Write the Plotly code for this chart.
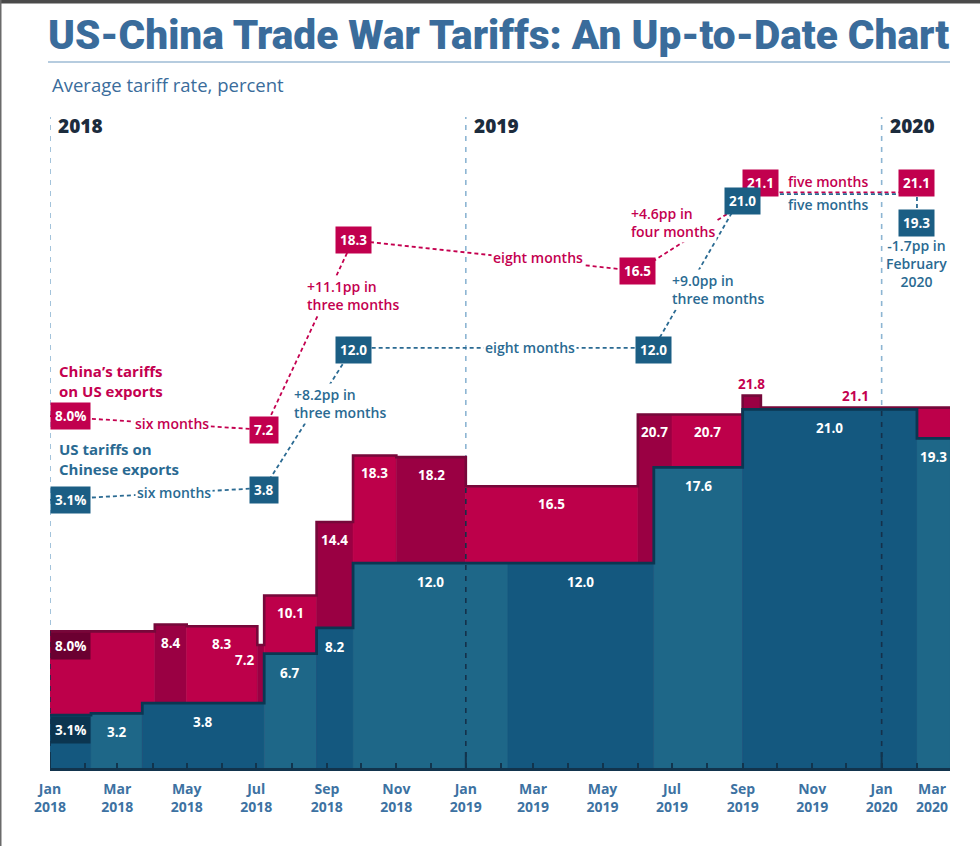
import pandas as pd
import plotly.graph_objects as go

# ---------------- data ----------------
END_DATE = "2020-03-01"

china_start = ["2018-01-01", "2018-04-03", "2018-05-01", "2018-07-02", "2018-07-08",
               "2018-08-23", "2018-09-24", "2018-11-01", "2019-01-01", "2019-06-01",
               "2019-07-01", "2019-09-01", "2019-09-17"]
china_value = [8.0, 8.4, 8.3, 7.2, 10.1, 14.4, 18.3, 18.2, 16.5, 20.7, 20.7, 21.8, 21.1]

us_start = ["2018-01-01", "2018-02-06", "2018-03-23", "2018-07-08", "2018-08-23",
            "2018-09-24", "2019-02-07", "2019-06-15", "2019-09-01", "2020-02-01"]
us_value = [3.1, 3.2, 3.8, 6.7, 8.2, 12.0, 12.0, 17.6, 21.0, 19.3]

# milestone diagram (upper part of the chart)
china_key_date = ["2018-01-01", "2018-07-08", "2018-09-24", "2019-06-01", "2019-09-17", "2020-02-01"]
china_key_value = [8.0, 7.2, 18.3, 16.5, 21.1, 21.1]
china_key_label = ["8.0%", "7.2", "18.3", "16.5", "21.1", "21.1"]
china_step_text = ["six months", "+11.1pp in<br>three months", "eight months",
                   "+4.6pp in<br>four months", "five months"]

us_key_date = ["2018-01-01", "2018-07-08", "2018-09-24", "2019-06-15", "2019-09-01", "2020-02-01", "2020-02-01"]
us_key_value = [3.1, 3.8, 12.0, 12.0, 21.0, 21.0, 19.3]
us_key_label = ["3.1%", "3.8", "12.0", "12.0", "21.0", "", "19.3"]
us_step_text = ["six months", "+8.2pp in<br>three months", "eight months",
                "+9.0pp in<br>three months", "five months", "-1.7pp in<br>February<br>2020"]

tick_dates = ["2018-01-01", "2018-03-01", "2018-05-01", "2018-07-01", "2018-09-01", "2018-11-01",
              "2019-01-01", "2019-03-01", "2019-05-01", "2019-07-01", "2019-09-01", "2019-11-01",
              "2020-01-01", "2020-03-01"]
tick_text = ["Jan<br>2018", "Mar<br>2018", "May<br>2018", "Jul<br>2018", "Sep<br>2018", "Nov<br>2018",
             "Jan<br>2019", "Mar<br>2019", "May<br>2019", "Jul<br>2019", "Sep<br>2019", "Nov<br>2019",
             "Jan<br>2020", "Mar<br>2020"]
year_dates = ["2018-01-01", "2019-01-01", "2020-01-01"]
year_labels = ["2018", "2019", "2020"]

TITLE = "US-China Trade War Tariffs: An Up-to-Date Chart"
SUBTITLE = "Average tariff rate, percent"
CHINA_NAME = "China\u2019s tariffs<br>on US exports"
US_NAME = "US tariffs on<br>Chinese exports"

# ---------------- style ----------------
W, H = 980, 846
ML, MR, MT, MB = 50, 30, 100, 78
PLOT_W = W - ML - MR
PLOT_H = H - MT - MB
PX_PER_UNIT = 17.08
Y_TOP = PLOT_H / PX_PER_UNIT
DIAGRAM_OFFSET = 12.6

FONT = "Open Sans"
CR = "#bd004a"      # crimson
CR_DK = "#9a0043"
CR_LINE = "#76083a"
CR_BOX = "#c1004e"
CR_TXT = "#c4004f"
BL_LT = "#1e6788"
BL_DK = "#14587f"
BL_LINE = "#0b3652"
BL_BOX = "#1b5e84"
BL_TXT = "#2a6a92"
AX = "#12344d"
TITLE_C = "#3a6c9b"

fig = go.Figure()


def seg_end(starts, i):
    return starts[i + 1] if i + 1 < len(starts) else END_DATE


def mid(a, b):
    a, b = pd.Timestamp(a), pd.Timestamp(b)
    return a + (b - a) / 2


def value_at(starts, values, d):
    d = pd.Timestamp(d)
    v = values[0]
    for s, val in zip(starts, values):
        if pd.Timestamp(s) <= d:
            v = val
    return v


def py(px):
    """pixel row -> paper y"""
    return (H - MB - px) / PLOT_H


def pxx(px):
    """pixel column -> paper x"""
    return (px - ML) / PLOT_W


ann = []

# light dashed year lines (behind areas)
shapes = []
for d in year_dates:
    shapes.append(dict(type="line", xref="x", yref="paper", x0=d, x1=d, y0=0, y1=py(117),
                       line=dict(color="#8db5d3", width=1.6, dash="5px,6px"), layer="below"))

# China area segments
for i, (s, v) in enumerate(zip(china_start, china_value)):
    e = seg_end(china_start, i)
    c = CR if i % 2 == 0 else CR_DK
    fig.add_trace(go.Scatter(x=[s, s, e, e, s], y=[0, v, v, 0, 0], fill="toself", fillcolor=c,
                             mode="lines", line=dict(color=c, width=0.6), hoverinfo="skip", showlegend=False))
fig.add_trace(go.Scatter(x=china_start + [END_DATE], y=china_value + [china_value[-1]], mode="lines",
                         line=dict(color=CR_LINE, width=2.6, shape="hv"), hoverinfo="skip", showlegend=False))

# US area segments
for i, (s, v) in enumerate(zip(us_start, us_value)):
    e = seg_end(us_start, i)
    c = BL_DK if i % 2 == 0 else BL_LT
    fig.add_trace(go.Scatter(x=[s, s, e, e, s], y=[0, v, v, 0, 0], fill="toself", fillcolor=c,
                             mode="lines", line=dict(color=c, width=0.6), hoverinfo="skip", showlegend=False))
fig.add_trace(go.Scatter(x=us_start + [END_DATE], y=us_value + [us_value[-1]], mode="lines",
                         line=dict(color=BL_LINE, width=2.8, shape="hv"), hoverinfo="skip", showlegend=False))

# dark dashed year lines inside the areas
for d in year_dates:
    top = value_at(china_start, china_value, d)
    fig.add_trace(go.Scatter(x=[d, d], y=[0, top], mode="lines",
                             line=dict(color="#15304a", width=1.6, dash="5px,6px"),
                             hoverinfo="skip", showlegend=False))

# diagram connector lines (on y2, shifted axis)
fig.add_trace(go.Scatter(x=china_key_date, y=china_key_value, yaxis="y2", mode="lines",
                         line=dict(color=CR_TXT, width=1.8, dash="4px,3px"), hoverinfo="skip", showlegend=False))
fig.add_trace(go.Scatter(x=us_key_date, y=us_key_value, yaxis="y2", mode="lines",
                         line=dict(color=BL_TXT, width=1.8, dash="4px,3px"), hoverinfo="skip", showlegend=False))

lab_font = dict(family=FONT, size=13.5, color="white", weight=700)

# value labels in the areas
for i, (s, v) in enumerate(zip(china_start, china_value)):
    e = seg_end(china_start, i)
    txt = f"{v:.1f}"
    if i == 0:
        ann.append(dict(x=s, y=v, xref="x", yref="y", text=txt + "%", showarrow=False, xanchor="left",
                        yanchor="top", bgcolor="#6b0031", borderpad=4, font=lab_font, yshift=-1))
    elif i == 3:
        ann.append(dict(x=s, y=v, xref="x", yref="y", text=txt, showarrow=False, xanchor="right",
                        yanchor="middle", yshift=-15, xshift=0, font=lab_font))
    elif i >= len(china_value) - 2:
        ann.append(dict(x=mid(s, e), y=v, xref="x", yref="y", text=txt, showarrow=False,
                        yanchor="middle", yshift=12, font=dict(family=FONT, size=13.5, color=CR_TXT, weight=700)))
    else:
        ann.append(dict(x=mid(s, e), y=v, xref="x", yref="y", text=txt, showarrow=False,
                        yanchor="middle", yshift=-18, font=lab_font))

for i, (s, v) in enumerate(zip(us_start, us_value)):
    e = seg_end(us_start, i)
    txt = f"{v:.1f}"
    if i == 0:
        ann.append(dict(x=s, y=v, xref="x", yref="y", text=txt + "%", showarrow=False, xanchor="left",
                        yanchor="top", bgcolor="#0b3550", borderpad=4, font=lab_font, yshift=-1))
    else:
        ann.append(dict(x=mid(s, e), y=v, xref="x", yref="y", text=txt, showarrow=False,
                        yanchor="middle", yshift=-19, font=lab_font))

# connector texts: (fraction along step, xshift, yshift, background)
china_step_pos = [(0.57, 0, 0, True), (0.71, 26, 0, True), (0.65, 0, 3, True), (0.62, -41, 0, True), (0.43, 0, 11, False)]
us_step_pos = [(0.58, 0, 0, True), (0.60, 23, 0, True), (0.59, 0, 0, True), (0.38, 30, 0, True),
               (0.49, 0, -10, False), (1.0, 0, -40, False)]


def step_labels(dates, values, texts, pos, color):
    for i, (txt, (t, xs, ys, bg)) in enumerate(zip(texts, pos)):
        d0, d1 = pd.Timestamp(dates[i]), pd.Timestamp(dates[i + 1])
        v0, v1 = values[i], values[i + 1]
        x = d0 + (d1 - d0) * t
        y = v0 + (v1 - v0) * t
        ann.append(dict(x=x, y=y, xref="x", yref="y2", text=txt, showarrow=False, xshift=xs, yshift=ys,
                        xanchor="center", yanchor="middle",
                        align="center" if "February" in txt else "left",
                        bgcolor="white" if bg else None, borderpad=1,
                        font=dict(family=FONT, size=14, color=color, weight=600)))


step_labels(china_key_date, china_key_value, china_step_text, china_step_pos, CR_TXT)
step_labels(us_key_date, us_key_value, us_step_text, us_step_pos, BL_TXT)

# diagram boxes (drawn over the connector lines and texts)
box_font = dict(family=FONT, size=13.5, color="white", weight=700)
china_box_shift = [0, 0, 0, 0, 9, 9]
us_box_shift = [0, -2, -2, -2, -7, 0, 0]
for i, (d, v, t) in enumerate(zip(china_key_date, china_key_value, china_key_label)):
    ann.append(dict(x=d, y=v, xref="x", yref="y2", text=t, showarrow=False, bgcolor=CR_BOX, borderpad=4,
                    xanchor="left" if i == 0 else "center", yanchor="middle",
                    yshift=china_box_shift[i], font=box_font))
for i, (d, v, t) in enumerate(zip(us_key_date, us_key_value, us_key_label)):
    if not t:
        continue
    ann.append(dict(x=d, y=v, xref="x", yref="y2", text=t, showarrow=False, bgcolor=BL_BOX, borderpad=4,
                    xanchor="left" if i == 0 else "center", yanchor="middle",
                    yshift=us_box_shift[i], font=box_font))

# series names
ann.append(dict(x=pxx(57), y=py(381), xref="paper", yref="paper", text=CHINA_NAME, showarrow=False,
                xanchor="left", yanchor="middle", align="left",
                font=dict(family=FONT, size=15, color=CR_TXT, weight=700)))
ann.append(dict(x=pxx(57), y=py(459), xref="paper", yref="paper", text=US_NAME, showarrow=False,
                xanchor="left", yanchor="middle", align="left",
                font=dict(family=FONT, size=15, color=BL_TXT, weight=700)))

# year headings
for d, t in zip(year_dates, year_labels):
    ann.append(dict(x=d, y=py(126), xref="x", yref="paper", text=t, showarrow=False,
                    xanchor="left", yanchor="middle", xshift=6,
                    font=dict(family=FONT, size=19, color="#1c2c3d", weight=800)))

# subtitle
ann.append(dict(x=0, y=py(84), xref="paper", yref="paper", text=SUBTITLE, showarrow=False,
                xanchor="left", yanchor="middle", font=dict(family=FONT, size=18.5, color=TITLE_C)))

# last tick label right-aligned to plot edge
tick_font = dict(family=FONT, size=14, color="#3d72a2", weight=700)
ann.append(dict(x=tick_dates[-1], y=py(777), xref="x", yref="paper", text=tick_text[-1],
                showarrow=False, xanchor="right", yanchor="top", align="center", font=tick_font))

# taller ticks at year starts
for d in year_dates:
    shapes.append(dict(type="line", xref="x", yref="paper", x0=d, x1=d, y0=0, y1=16 / PLOT_H,
                       line=dict(color=AX, width=2), layer="above"))

# title underline and frame
shapes.append(dict(type="line", xref="paper", yref="paper", x0=pxx(48), x1=1.0,
                   y0=py(62), y1=py(62), line=dict(color="#9ebbd4", width=1.6)))
shapes.append(dict(type="rect", xref="paper", yref="paper", x0=pxx(0), x1=pxx(W),
                   y0=py(3.5), y1=py(0), fillcolor="#4a4a4a", line=dict(width=0)))
shapes.append(dict(type="rect", xref="paper", yref="paper", x0=pxx(0), x1=pxx(1.5),
                   y0=py(H), y1=py(0), fillcolor="#6a6a6a", line=dict(width=0)))

fig.update_layout(
    width=W, height=H,
    margin=dict(l=ML, r=MR, t=MT, b=MB),
    paper_bgcolor="white", plot_bgcolor="white",
    showlegend=False,
    title=dict(text=TITLE, x=48 / W, xref="container", xanchor="left", y=1 - 35 / H, yref="container",
               yanchor="middle", font=dict(family="Roboto", size=40.6, color=TITLE_C, weight=900)),
    xaxis=dict(type="date", range=[china_start[0], END_DATE], showgrid=False, zeroline=False,
               showline=True, linecolor=AX, linewidth=2.5,
               tickmode="array", tickvals=tick_dates[:-1], ticktext=tick_text[:-1],
               ticks="inside", ticklen=5, tickwidth=1.5, tickcolor=AX, tickfont=tick_font,
               ticklabelstandoff=6,
               minor=dict(tickmode="linear", tick0=china_start[0], dtick="M1", ticks="inside",
                          ticklen=5, tickwidth=1.5, tickcolor=AX, showgrid=False)),
    yaxis=dict(range=[0, Y_TOP], visible=False, fixedrange=True),
    yaxis2=dict(range=[-DIAGRAM_OFFSET, Y_TOP - DIAGRAM_OFFSET], overlaying="y", visible=False),
    annotations=ann,
    shapes=shapes,
)

fig.write_html("out.html", config={"displayModeBar": False},
               post_script="document.body.style.margin='0px';")
